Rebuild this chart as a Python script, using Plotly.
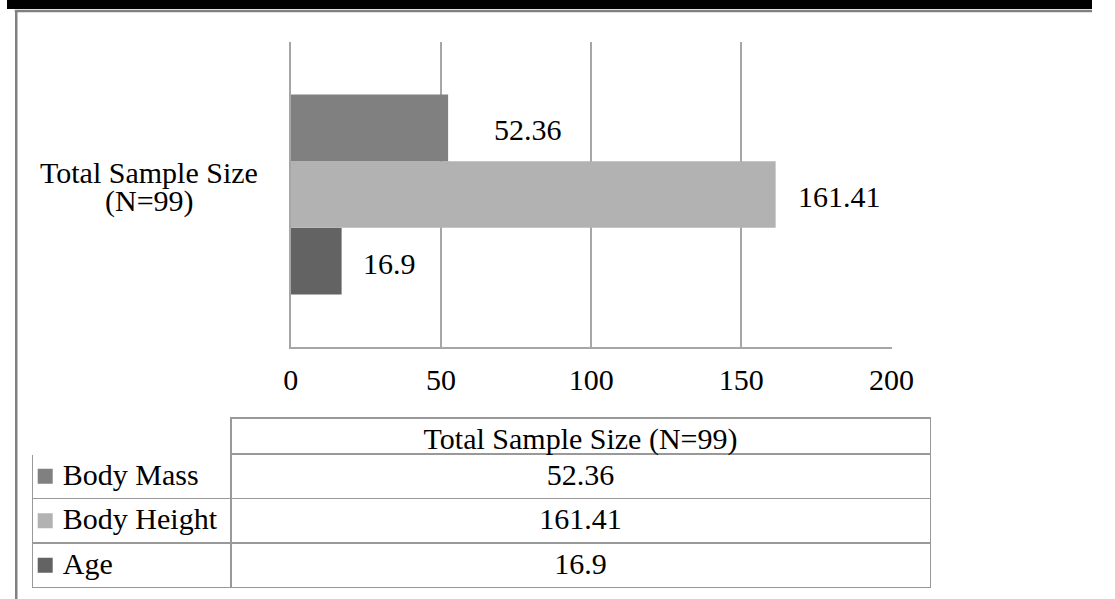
import plotly.graph_objects as go

# ---- data ----
category_lines = ["Total Sample Size", "(N=99)"]
category = " ".join(category_lines)
series = ["Body Mass", "Body Height", "Age"]
values = [52.36, 161.41, 16.9]
x_ticks = [0, 50, 100, 150, 200]

# ---- style ----
colors = {"Body Mass": "#808080", "Body Height": "#B2B2B2", "Age": "#636363"}
label_gap = {"Body Mass": 44, "Body Height": 20, "Age": 19}
W, H = 1115, 599
FONT = "'Liberation Serif', 'Times New Roman', 'DejaVu Serif', serif"
FS = 30
GRID = "#A6A6A6"
TLINE = "#999999"
BARGAP = 0.344
NB = "\u00a0"


def px(xp):
    return xp / W


def py(yp):
    return 1 - yp / H


fig = go.Figure()

# bars: plotly draws the first trace at the bottom of the group
order = list(reversed(series))
n = len(order)
bw = (1 - BARGAP) / n
for k, name in enumerate(order):
    v = values[series.index(name)]
    fig.add_trace(go.Bar(
        y=[category], x=[v], name=name, orientation="h",
        marker=dict(color=colors[name], line=dict(width=0)),
        showlegend=False, hoverinfo="x+name",
    ))
    fig.add_annotation(
        x=v, y=(k - (n - 1) / 2) * bw, xref="x", yref="y", text=str(v),
        showarrow=False, xanchor="left", yanchor="middle",
        xshift=label_gap[name], yshift=-2,
        font=dict(family=FONT, size=FS, color="black"),
    )

fig.update_layout(barmode="group", bargap=BARGAP, bargroupgap=0)

# category label (centred, two lines)
for i, line in enumerate(category_lines):
    fig.add_annotation(
        x=px(146), xref="paper", y=0, yref="y", text=line,
        showarrow=False, xanchor="center", yanchor="middle",
        yshift=22 - i * 29,
        font=dict(family=FONT, size=FS, color="black"),
    )

fig.update_xaxes(
    domain=[px(291.7), px(909)], range=[0, 200], tickvals=x_ticks,
    showgrid=True, gridcolor=GRID, gridwidth=1.5,
    showline=True, linecolor=GRID, linewidth=1.5,
    ticks="", ticklabelstandoff=5, zeroline=False,
    tickfont=dict(family=FONT, size=FS, color="black"),
)
fig.update_yaxes(
    domain=[py(347), py(42)], showticklabels=False,
    showline=True, linecolor=GRID, linewidth=1.5,
    showgrid=False, ticks="", range=[-0.5, 0.5],
)

# data table
TOP, HEAD, ROW = 418, 36, 44.5
bottom = TOP + HEAD + ROW * len(series)
fig.add_trace(go.Table(
    domain=dict(x=[px(26), px(949)], y=[py(bottom + 2), py(TOP)]),
    columnwidth=[204, 719],
    header=dict(
        values=["", category],
        height=HEAD,
        align=["left", "center"],
        line=dict(color=["white", TLINE], width=1.5),
        fill=dict(color="white"),
        font=dict(family=FONT, size=FS, color="black"),
    ),
    cells=dict(
        values=[[NB * 3 + s.replace(" ", NB) for s in series],
                [str(v) for v in values]],
        height=ROW,
        align=["left", "center"],
        line=dict(color=TLINE, width=1.5),
        fill=dict(color=["rgba(0,0,0,0)", "white"]),
        font=dict(family=FONT, size=FS, color="black"),
    ),
))

# legend keys of the table rows, on an overlay axis aligned with the rows
fig.add_trace(go.Scatter(
    x=[0.065] * len(series), y=series, xaxis="x2", yaxis="y2",
    mode="markers", showlegend=False, hoverinfo="skip",
    marker=dict(symbol="square", size=15, color=[colors[s] for s in series],
                line=dict(width=0)),
))
fig.update_layout(
    xaxis2=dict(domain=[px(26), px(230)], range=[0, 1], visible=False,
                anchor="y2", fixedrange=True),
    yaxis2=dict(domain=[py(bottom), py(TOP + HEAD)], visible=False,
                anchor="x2", type="category", categoryorder="array",
                categoryarray=series, range=[len(series) - 0.5, -0.5],
                fixedrange=True),
)

# page frame
fig.add_shape(type="rect", xref="paper", yref="paper", x0=0, x1=1,
              y0=py(9), y1=1, fillcolor="black", line=dict(width=0), layer="above")
fig.add_shape(type="line", xref="paper", yref="paper", x0=px(8), x1=1,
              y0=py(11), y1=py(11), line=dict(color="#808080", width=2.5))
fig.add_shape(type="line", xref="paper", yref="paper", x0=px(9.5), x1=px(9.5),
              y0=0, y1=py(10), line=dict(color="#808080", width=2.5))

fig.update_layout(
    width=W, height=H, margin=dict(l=0, r=0, t=0, b=0),
    paper_bgcolor="white", plot_bgcolor="white",
    font=dict(family=FONT, size=FS, color="black"),
)

fig.write_html(
    "out.html",
    config={"displayModeBar": False, "responsive": False},
    post_script=("document.body.style.margin='0';"
                 "document.body.style.overflow='hidden';"
                 "document.documentElement.style.overflow='hidden';"),
)
